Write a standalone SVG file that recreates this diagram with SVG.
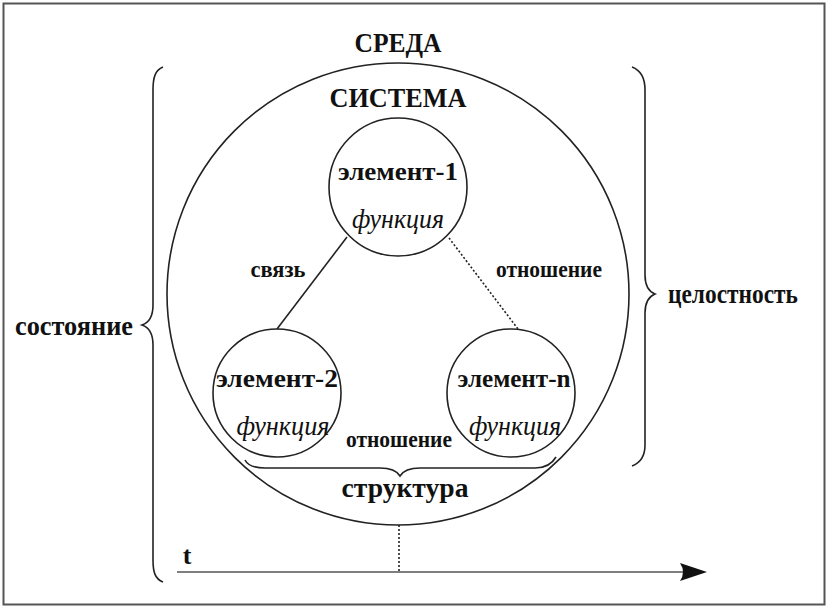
<svg xmlns="http://www.w3.org/2000/svg" width="828" height="608" viewBox="0 0 828 608">
<style>
.ln{fill:none;stroke:#222;stroke-width:1.6}
.dot{fill:none;stroke:#222;stroke-width:1.6;stroke-dasharray:2 2}
.b{font-family:"Liberation Serif","Times New Roman",serif;font-weight:bold;fill:#111;text-anchor:middle}
.i{font-family:"Liberation Serif","Times New Roman",serif;font-style:italic;fill:#111;text-anchor:middle}
</style>
<rect x="0" y="0" width="828" height="608" fill="#fff"/>
<rect x="3.5" y="3.5" width="821" height="601" fill="none" stroke="#555" stroke-width="2"/>
<g id="env">
<text class="b" x="398" y="52" font-size="27" textLength="87" lengthAdjust="spacingAndGlyphs">СРЕДА</text>
</g>
<g id="system">
<circle class="ln" cx="398" cy="294" r="231"/>
<text class="b" x="398" y="107" font-size="27" textLength="137" lengthAdjust="spacingAndGlyphs">СИСТЕМА</text>
</g>
<g id="element-1">
<circle class="ln" cx="398" cy="187" r="69"/>
<text class="b" x="398" y="180" font-size="26" textLength="120" lengthAdjust="spacingAndGlyphs">элемент-1</text>
<text class="i" x="398" y="228" font-size="27" textLength="92" lengthAdjust="spacingAndGlyphs">функция</text>
</g>
<g id="element-2">
<circle class="ln" cx="277" cy="393" r="64"/>
<text class="b" x="277" y="387" font-size="26" textLength="122" lengthAdjust="spacingAndGlyphs">элемент-2</text>
<text class="i" x="283" y="435" font-size="27" textLength="93" lengthAdjust="spacingAndGlyphs">функция</text>
</g>
<g id="element-n">
<circle class="ln" cx="511" cy="393" r="64"/>
<text class="b" x="514" y="387" font-size="26" textLength="113" lengthAdjust="spacingAndGlyphs">элемент-n</text>
<text class="i" x="515" y="435" font-size="27" textLength="92" lengthAdjust="spacingAndGlyphs">функция</text>
</g>
<g id="connectors">
<line class="ln" x1="347" y1="237" x2="277" y2="329"/>
<line class="dot" x1="449" y1="238" x2="518" y2="329"/>
<path class="ln" d="M163,67 C155,70 153,78 153,90 L153,305 C153,318 148,323 142,325 C148,327 153,332 153,345 L153,560 C153,572 155,579 163,582"/>
<path class="ln" d="M632,67 C640,70 645,78 645,90 L645,275 C645,288 650,292 655,294 C650,296 645,300 645,313 L645,445 C645,457 640,463 632,466"/>
<path class="ln" d="M245,460 C248,466 255,468 265,468 L380,468 C392,468 397,471 400,476 C403,471 408,468 420,468 L535,468 C545,468 552,464 556,457"/>
<line class="dot" x1="399" y1="525" x2="399" y2="572"/>
<line x1="177" y1="572" x2="688" y2="572" stroke="#555" stroke-width="1.6"/>
<path d="M707,572 L680,563 Q686,572 680,581 Z" fill="#111"/>
</g>
<g id="labels">
<text class="b" x="278" y="277" font-size="24" textLength="55" lengthAdjust="spacingAndGlyphs">связь</text>
<text class="b" x="549" y="277" font-size="24" textLength="106" lengthAdjust="spacingAndGlyphs">отношение</text>
<text class="b" x="399" y="447" font-size="24" textLength="106" lengthAdjust="spacingAndGlyphs">отношение</text>
<text class="b" x="405" y="497" font-size="28" textLength="127" lengthAdjust="spacingAndGlyphs">структура</text>
<text class="b" x="74" y="335" font-size="27" textLength="118" lengthAdjust="spacingAndGlyphs">состояние</text>
<text class="b" x="733" y="303" font-size="27" textLength="130" lengthAdjust="spacingAndGlyphs">целостность</text>
<text class="b" x="187" y="564" font-size="26">t</text>
</g>
</svg>
